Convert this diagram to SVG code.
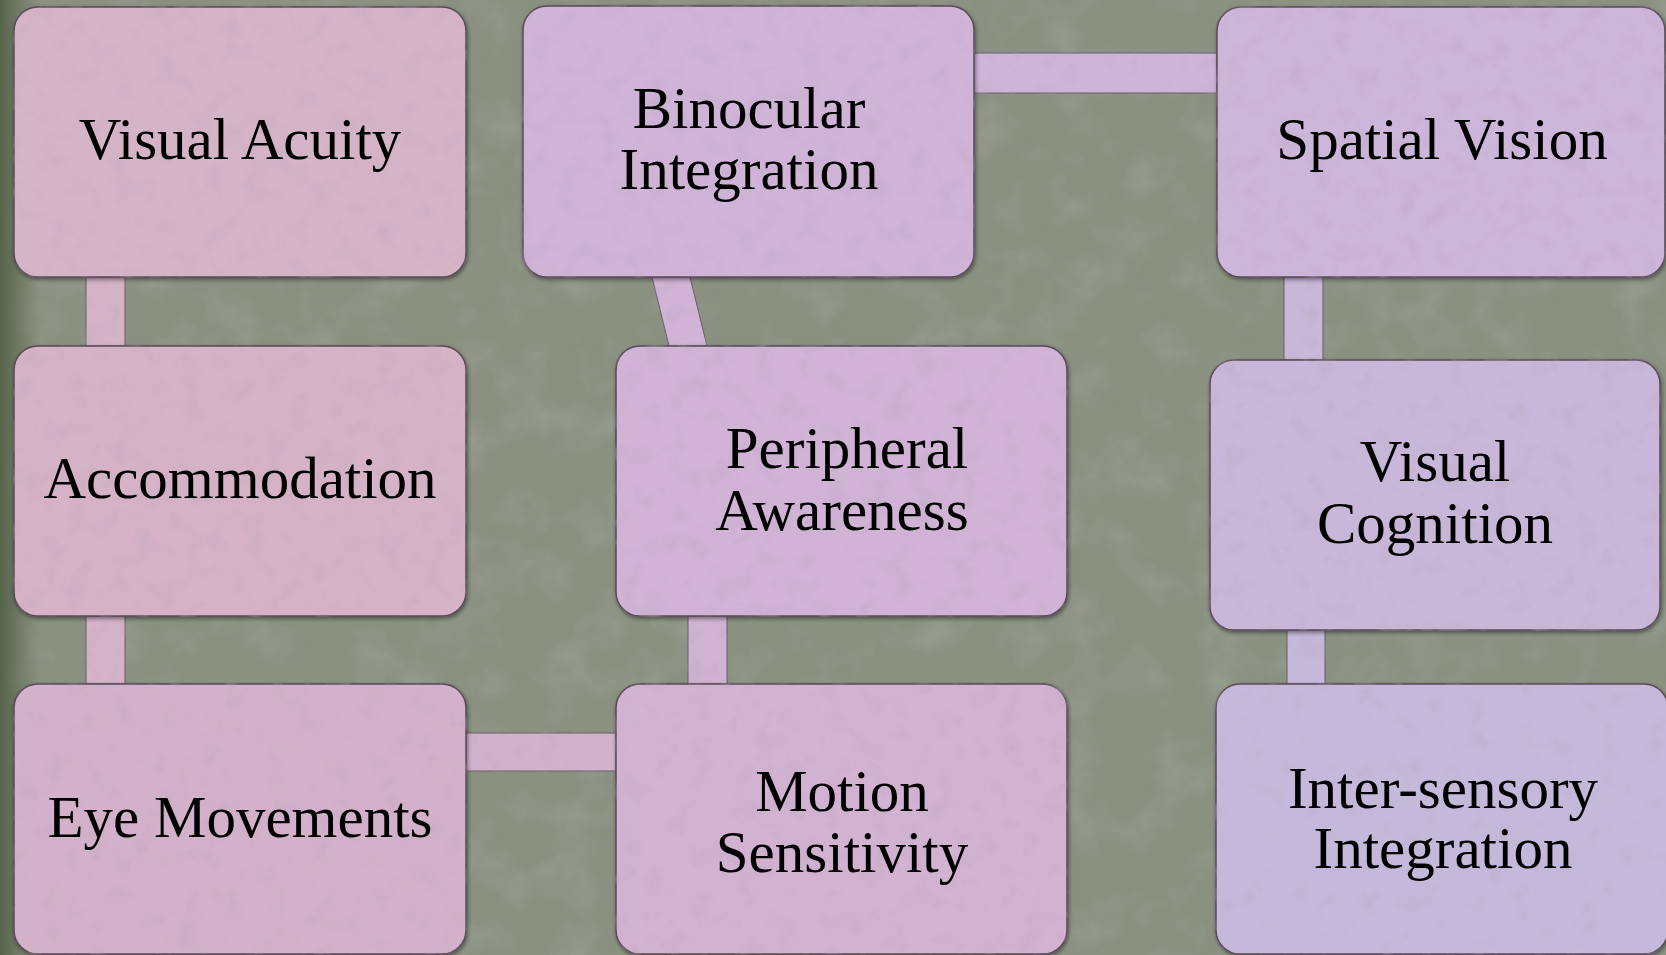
<svg xmlns="http://www.w3.org/2000/svg" width="1666" height="955" viewBox="0 0 1666 955">
  <defs>
    <style>
      .box { stroke: #5a4a58; stroke-width: 1.5; filter: url(#boxfx); }
      .con { stroke: #6a5a68; stroke-width: 1; filter: url(#confx); }
      .lbl { font-family: "Liberation Serif", "DejaVu Serif", serif; font-size: 59px; fill: #000; text-anchor: middle; }
    </style>
    <linearGradient id="leftEdge" x1="0" y1="0" x2="1" y2="0">
      <stop offset="0" stop-color="#56634a" stop-opacity="1"/>
      <stop offset="1" stop-color="#56634a" stop-opacity="0"/>
    </linearGradient>
    <filter id="bgfx" x="0" y="0" width="100%" height="100%">
      <feTurbulence type="fractalNoise" baseFrequency="0.02" numOctaves="4" seed="11" result="noise"/>
      <feColorMatrix in="noise" type="matrix" values="0 0 0 0 0.40  0 0 0 0 0.43  0 0 0 0 0.37  0.8 0 0 0 -0.38" result="spots"/>
      <feComposite in="spots" in2="SourceAlpha" operator="in" result="spotsIn"/>
      <feMerge><feMergeNode in="SourceGraphic"/><feMergeNode in="spotsIn"/></feMerge>
    </filter>
    <filter id="boxfx" x="-3%" y="-3%" width="106%" height="108%">
      <feTurbulence type="fractalNoise" baseFrequency="0.045" numOctaves="4" seed="7" result="noise"/>
      <feColorMatrix in="noise" type="matrix" values="0 0 0 0 0.50  0 0 0 0 0.38  0 0 0 0 0.50  0.9 0 0 0 -0.46" result="spots"/>
      <feComposite in="spots" in2="SourceAlpha" operator="in" result="spotsIn"/>
      <feGaussianBlur in="SourceAlpha" stdDeviation="2" result="blur"/>
      <feOffset in="blur" dx="1" dy="2" result="sh"/>
      <feComponentTransfer in="sh" result="sh2"><feFuncA type="linear" slope="0.45"/></feComponentTransfer>
      <feMerge><feMergeNode in="sh2"/><feMergeNode in="SourceGraphic"/><feMergeNode in="spotsIn"/></feMerge>
    </filter>
    <filter id="confx" x="-10%" y="-10%" width="120%" height="120%">
      <feTurbulence type="fractalNoise" baseFrequency="0.05" numOctaves="3" seed="4" result="noise"/>
      <feColorMatrix in="noise" type="matrix" values="0 0 0 0 0.50  0 0 0 0 0.38  0 0 0 0 0.50  0.9 0 0 0 -0.46" result="spots"/>
      <feComposite in="spots" in2="SourceAlpha" operator="in" result="spotsIn"/>
      <feMerge><feMergeNode in="SourceGraphic"/><feMergeNode in="spotsIn"/></feMerge>
    </filter>
  </defs>

  <rect x="0" y="0" width="1666" height="955" fill="#8a9181" filter="url(#bgfx)"/>
  <rect x="0" y="0" width="40" height="955" fill="url(#leftEdge)"/>

  <g id="connectors">
    <rect class="con" x="86" y="277" width="39" height="69" fill="#d5b3c7"/>
    <rect class="con" x="86" y="616" width="39" height="68" fill="#d4b2c7"/>
    <rect class="con" x="466" y="733" width="150" height="38" fill="#d2b1cc"/>
    <rect class="con" x="688" y="616" width="39" height="68" fill="#d0b2d3"/>
    <polygon class="con" points="652,277 690,277 707,346 669,346" fill="#d0b3d6"/>
    <rect class="con" x="974" y="53" width="243" height="40" fill="#cdb5d9"/>
    <rect class="con" x="1284" y="277" width="39" height="83" fill="#c9b7d9"/>
    <rect class="con" x="1287" y="630" width="38" height="54" fill="#c6b8da"/>
  </g>

  <g id="visual-acuity">
    <rect class="box" x="14" y="7" width="452" height="270" rx="24" fill="#d6b4c7"/>
    <text class="lbl" x="240" y="159">Visual Acuity</text>
  </g>
  <g id="accommodation">
    <rect class="box" x="14" y="346" width="452" height="270" rx="24" fill="#d5b2c6"/>
    <text class="lbl" x="240" y="498">Accommodation</text>
  </g>
  <g id="eye-movements">
    <rect class="box" x="14" y="684" width="452" height="270" rx="24" fill="#d3b1ca"/>
    <text class="lbl" x="240" y="837">Eye Movements</text>
  </g>
  <g id="binocular-integration">
    <rect class="box" x="523" y="6" width="451" height="271" rx="24" fill="#cfb4d8"/>
    <text class="lbl" x="749" y="128">Binocular</text>
    <text class="lbl" x="749" y="189">Integration</text>
  </g>
  <g id="peripheral-awareness">
    <rect class="box" x="616" y="346" width="451" height="270" rx="24" fill="#d0b3d5"/>
    <text class="lbl" x="847" y="468">Peripheral</text>
    <text class="lbl" x="842" y="530">Awareness</text>
  </g>
  <g id="motion-sensitivity">
    <rect class="box" x="616" y="684" width="451" height="270" rx="24" fill="#d1b2d1"/>
    <text class="lbl" x="842" y="811">Motion</text>
    <text class="lbl" x="842" y="872">Sensitivity</text>
  </g>
  <g id="spatial-vision">
    <rect class="box" x="1217" y="7" width="448" height="270" rx="24" fill="#ccb6da"/>
    <text class="lbl" x="1442" y="159">Spatial Vision</text>
  </g>
  <g id="visual-cognition">
    <rect class="box" x="1210" y="360" width="450" height="270" rx="24" fill="#c8b7d9"/>
    <text class="lbl" x="1435" y="481">Visual</text>
    <text class="lbl" x="1435" y="543">Cognition</text>
  </g>
  <g id="inter-sensory-integration">
    <rect class="box" x="1216" y="684" width="452" height="270" rx="24" fill="#c5b9db"/>
    <text class="lbl" x="1443" y="808">Inter-sensory</text>
    <text class="lbl" x="1443" y="868">Integration</text>
  </g>
</svg>
